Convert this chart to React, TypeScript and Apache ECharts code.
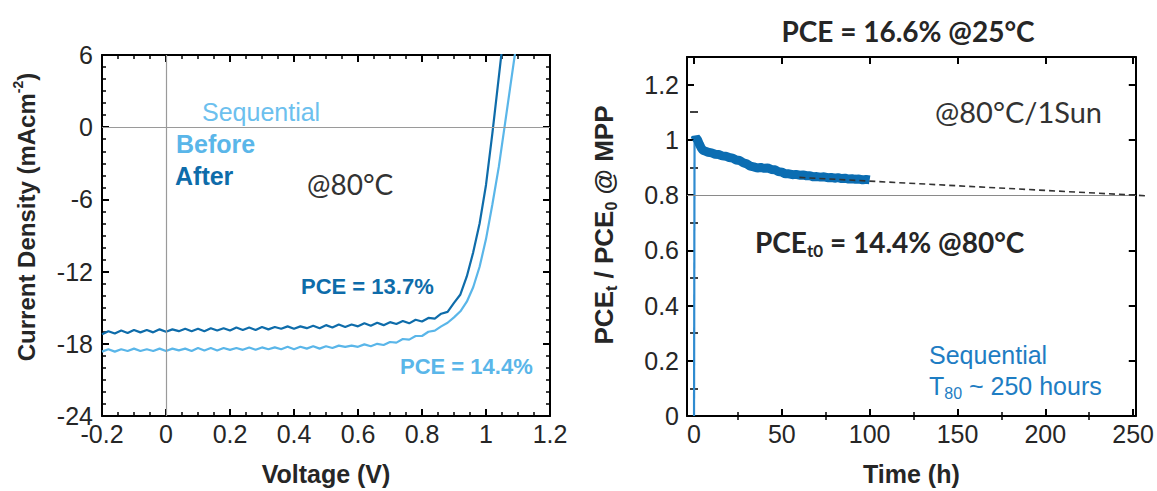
import React, { useEffect, useRef } from "react";
import * as echarts from "echarts";

// ---- Left panel: J-V curves ----
const afterVoltage = [
  -0.2, -0.18, -0.16, -0.14, -0.12, -0.1, -0.08, -0.06, -0.04, -0.02,
  0.0, 0.02, 0.04, 0.06, 0.08, 0.1, 0.12, 0.14, 0.16, 0.18,
  0.2, 0.22, 0.24, 0.26, 0.28, 0.3, 0.32, 0.34, 0.36, 0.38,
  0.4, 0.42, 0.44, 0.46, 0.48, 0.5, 0.52, 0.54, 0.56, 0.58,
  0.6, 0.62, 0.64, 0.66, 0.68, 0.7, 0.72, 0.74, 0.76, 0.78,
  0.8, 0.82, 0.84, 0.86, 0.88, 0.9, 0.92, 0.94, 0.96, 0.98,
  1.0, 1.02, 1.035, 1.05,
];
const afterCurrent = [
  -17.2, -16.95, -17.15, -16.9, -17.1, -16.85, -17.05, -16.85, -17.05, -16.8,
  -17.0, -16.8, -16.95, -16.75, -16.95, -16.75, -16.95, -16.7, -16.9, -16.7,
  -16.9, -16.65, -16.85, -16.65, -16.85, -16.6, -16.8, -16.6, -16.75, -16.55,
  -16.75, -16.55, -16.7, -16.5, -16.7, -16.45, -16.65, -16.4, -16.6, -16.4,
  -16.55, -16.3, -16.5, -16.25, -16.45, -16.2, -16.35, -16.1, -16.3, -16.0,
  -16.15, -15.85, -15.9, -15.5, -15.35, -14.6, -13.9, -12.4, -10.4, -8.0,
  -4.8, -0.5, 3.0, 6.5,
];
const beforeVoltage = [
  -0.2, -0.18, -0.16, -0.14, -0.12, -0.1, -0.08, -0.06, -0.04, -0.02,
  0.0, 0.02, 0.04, 0.06, 0.08, 0.1, 0.12, 0.14, 0.16, 0.18,
  0.2, 0.22, 0.24, 0.26, 0.28, 0.3, 0.32, 0.34, 0.36, 0.38,
  0.4, 0.42, 0.44, 0.46, 0.48, 0.5, 0.52, 0.54, 0.56, 0.58,
  0.6, 0.62, 0.64, 0.66, 0.68, 0.7, 0.72, 0.74, 0.76, 0.78,
  0.8, 0.82, 0.84, 0.86, 0.88, 0.9, 0.92, 0.94, 0.96, 0.98,
  1.0, 1.02, 1.04, 1.06, 1.075, 1.09, 1.1,
];
const beforeCurrent = [
  -18.65, -18.45, -18.65, -18.45, -18.6, -18.4, -18.6, -18.45, -18.6, -18.4,
  -18.6, -18.4, -18.55, -18.4, -18.6, -18.35, -18.55, -18.35, -18.55, -18.35,
  -18.5, -18.35, -18.5, -18.3, -18.5, -18.3, -18.45, -18.3, -18.45, -18.25,
  -18.45, -18.25, -18.4, -18.2, -18.4, -18.2, -18.35, -18.15, -18.25, -18.15,
  -18.25, -18.05, -18.2, -18.0, -18.1, -17.85, -17.9, -17.6, -17.65, -17.35,
  -17.35, -17.0, -16.9, -16.55, -16.25, -15.8, -15.3, -14.5, -13.3, -11.6,
  -9.3, -6.4, -3.3, 0.4, 3.2, 6.0, 7.5,
];
const voltageTicks = { min: -0.2, max: 1.2, interval: 0.2 };
const currentTicks = { min: -24, max: 6, interval: 6 };

// ---- Right panel: stability at MPP ----
const riseTime = [0, 0.3];
const riseValue = [0, 1.0];
const mppTime = [
  0.5, 1, 2, 3, 4, 5, 6, 8, 10, 12, 14, 16, 18, 20, 22, 24, 26, 28, 30, 32,
  34, 36, 38, 40, 42, 44, 46, 48, 50, 52, 54, 56, 58, 60, 62, 64, 66, 68, 70, 72,
  74, 76, 78, 80, 82, 84, 86, 88, 90, 92, 94, 96, 98, 100,
];
const mppValue = [
  1.0, 1.008, 1.0, 0.985, 0.972, 0.963, 0.96, 0.955, 0.953, 0.948, 0.947, 0.942, 0.941, 0.936, 0.934, 0.927, 0.925, 0.917, 0.913, 0.905,
  0.902, 0.898, 0.9, 0.897, 0.898, 0.893, 0.892, 0.885, 0.883, 0.877, 0.877, 0.874, 0.875, 0.872, 0.873, 0.87, 0.87, 0.866, 0.867, 0.865,
  0.866, 0.863, 0.864, 0.861, 0.863, 0.86, 0.861, 0.858, 0.859, 0.857, 0.858, 0.855, 0.857, 0.855,
];
const fitTime = [60, 259];
const fitValue = [0.864, 0.797];
const timeLabels = [0, 50, 100, 150, 200, 250];
const timeMinor = [25, 75, 125, 175, 225];
const ratioLabels = [0, 0.2, 0.4, 0.6, 0.8, 1, 1.2];
const ratioMinor = [0.1, 0.3, 0.5, 0.7, 0.9, 1.1];

const zip = (a: number[], b: number[]) => a.map((v, i) => [v, b[i]]);

const DARK = "#0E6CAA";
const LIGHT = "#5AB6E9";
const BAND = "#0B6DB2";
const TXT = "#262626";
const ARIAL = "'Liberation Sans', Arial, sans-serif";
const CAL = "Lato, 'Open Sans', sans-serif";

const labelStyle = { fontSize: 25, lineHeight: 18, color: TXT, fontFamily: ARIAL };
const lineStyle = { color: "#000", width: 2 };
const minorStyle = { color: "#000", width: 1.5 };

function App() {
  const ref = useRef<HTMLDivElement>(null);
  useEffect(() => {
    if (!ref.current) return;
    const chart = echarts.init(ref.current, undefined, { renderer: "svg" });
    const base = (gridIndex: number) => ({
      type: "value" as const,
      gridIndex,
      splitLine: { show: false },
      axisLine: { show: true, onZero: false, lineStyle },
    });
    const option: any = {
      animation: false,
      backgroundColor: "#fff",
      grid: [
        { left: 102, top: 55, width: 448, height: 363 },
        { left: 687, top: 57, width: 450, height: 360 },
      ],
      xAxis: [
        {
          ...base(0), position: "bottom", ...voltageTicks,
          axisTick: { inside: true, length: 7, lineStyle },
          minorTick: { show: true, splitNumber: 4, length: 4, lineStyle: minorStyle },
          axisLabel: { ...labelStyle, margin: 9 },
          name: "Voltage (V)", nameLocation: "middle", nameGap: 45,
          nameTextStyle: { fontSize: 25, fontWeight: "bold", color: TXT, fontFamily: ARIAL },
        },
        {
          ...base(0), position: "top", ...voltageTicks,
          axisTick: { inside: true, length: 7, lineStyle },
          minorTick: { show: true, splitNumber: 4, length: 4, lineStyle: minorStyle },
          axisLabel: { show: false },
        },
        {
          ...base(1), position: "bottom", min: -4, max: 251.5,
          axisTick: { inside: true, length: 7, lineStyle, customValues: timeLabels },
          axisLabel: { ...labelStyle, margin: 9, customValues: timeLabels },
          name: "Time (h)", nameLocation: "middle", nameGap: 45,
          nameTextStyle: { fontSize: 25, fontWeight: "bold", color: TXT, fontFamily: ARIAL },
        },
        {
          ...base(1), position: "top", min: -4, max: 251.5,
          axisTick: { inside: true, length: 7, lineStyle, customValues: timeLabels },
          axisLabel: { show: false },
        },
        {
          ...base(1), position: "bottom", min: -4, max: 251.5,
          axisLine: { show: false },
          axisTick: { inside: true, length: 4, lineStyle: minorStyle, customValues: timeMinor },
          axisLabel: { show: false },
        },
        {
          ...base(1), position: "top", min: -4, max: 251.5,
          axisLine: { show: false },
          axisTick: { inside: true, length: 4, lineStyle: minorStyle, customValues: timeMinor },
          axisLabel: { show: false },
        },
      ],
      yAxis: [
        {
          ...base(0), position: "left", ...currentTicks,
          axisTick: { inside: true, length: 7, lineStyle },
          minorTick: { show: true, splitNumber: 6, length: 4, lineStyle: minorStyle },
          axisLabel: { ...labelStyle, margin: 9 },
        },
        {
          ...base(0), position: "right", ...currentTicks,
          axisTick: { inside: true, length: 7, lineStyle },
          minorTick: { show: true, splitNumber: 6, length: 4, lineStyle: minorStyle },
          axisLabel: { show: false },
        },
        {
          ...base(1), position: "left", min: 0, max: 1.3,
          axisTick: { inside: true, length: 7, lineStyle, customValues: ratioLabels },
          axisLabel: { ...labelStyle, margin: 8, customValues: ratioLabels },
        },
        {
          ...base(1), position: "right", min: 0, max: 1.3,
          axisTick: { inside: true, length: 7, lineStyle, customValues: ratioLabels },
          axisLabel: { show: false },
        },
        {
          ...base(1), position: "left", min: 0, max: 1.3,
          axisLine: { show: false },
          axisTick: { inside: true, length: 4, lineStyle: minorStyle, customValues: ratioMinor },
          axisLabel: { show: false },
        },
        {
          ...base(1), position: "right", min: 0, max: 1.3,
          axisLine: { show: false },
          axisTick: { inside: true, length: 4, lineStyle: minorStyle, customValues: ratioMinor },
          axisLabel: { show: false },
        },
      ],
      series: [
        {
          name: "Before", type: "line", xAxisIndex: 0, yAxisIndex: 0,
          data: zip(beforeVoltage, beforeCurrent), showSymbol: false,
          lineStyle: { color: LIGHT, width: 2.2 }, itemStyle: { color: LIGHT },
          markLine: {
            silent: true, symbol: "none", label: { show: false },
            lineStyle: { color: "#9a9a9a", width: 1.2, type: "solid" },
            data: [{ yAxis: 0 }, { xAxis: 0 }],
          },
          z: 3,
        },
        {
          name: "After", type: "line", xAxisIndex: 0, yAxisIndex: 0,
          data: zip(afterVoltage, afterCurrent), showSymbol: false,
          lineStyle: { color: DARK, width: 2.2 }, itemStyle: { color: DARK }, z: 4,
        },
        {
          name: "Rise", type: "line", xAxisIndex: 2, yAxisIndex: 2,
          data: zip(riseTime, riseValue), showSymbol: false,
          lineStyle: { color: "#2F8BD0", width: 2.2 }, itemStyle: { color: "#2F8BD0" },
          markLine: {
            silent: true, symbol: "none", label: { show: false },
            lineStyle: { color: "#8a8a8a", width: 1.2, type: "solid" },
            data: [{ yAxis: 0.8 }],
          },
        },
        {
          name: "Sequential MPP", type: "line", xAxisIndex: 2, yAxisIndex: 2,
          data: zip(mppTime, mppValue), showSymbol: false,
          lineStyle: { color: BAND, width: 9 }, itemStyle: { color: BAND }, z: 3,
        },
      ],
      graphic: [
        { type: "text", x: 202, y: 112, style: { text: "Sequential", fill: "#6CC0EE", fontSize: 25, fontFamily: ARIAL, textAlign: "left", textVerticalAlign: "middle" } },
        { type: "text", x: 176, y: 144, style: { text: "Before", fill: LIGHT, fontSize: 25, fontWeight: "bold", fontFamily: ARIAL, textAlign: "left", textVerticalAlign: "middle" } },
        { type: "text", x: 175, y: 176, style: { text: "After", fill: DARK, fontSize: 25, fontWeight: "bold", fontFamily: ARIAL, textAlign: "left", textVerticalAlign: "middle" } },
        { type: "text", x: 307, y: 184, style: { text: "@80°C", fill: "#333", fontSize: 28, fontFamily: CAL, textAlign: "left", textVerticalAlign: "middle" } },
        { type: "text", x: 301, y: 286, style: { text: "PCE = 13.7%", fill: DARK, fontSize: 22, fontWeight: "bold", fontFamily: ARIAL, textAlign: "left", textVerticalAlign: "middle" } },
        { type: "text", x: 400, y: 366, style: { text: "PCE = 14.4%", fill: LIGHT, fontSize: 22, fontWeight: "bold", fontFamily: ARIAL, textAlign: "left", textVerticalAlign: "middle" } },
        {
          type: "text", x: 26, y: 217, rotation: Math.PI / 2,
          style: {
            text: "{a|Current Density (mAcm}{s|-2}{a|)}", fill: TXT, textAlign: "center", textVerticalAlign: "middle",
            rich: {
              a: { fontSize: 24, fontWeight: "bold", fontFamily: ARIAL, lineHeight: 30, fill: TXT },
              s: { fontSize: 14, fontWeight: "bold", fontFamily: ARIAL, lineHeight: 16, verticalAlign: "top", fill: TXT },
            },
          },
        },
        { type: "text", x: 908, y: 31, style: { text: "PCE = 16.6% @25°C", fill: TXT, fontSize: 28, fontWeight: "bold", fontFamily: CAL, textAlign: "center", textVerticalAlign: "middle" } },
        { type: "text", x: 935, y: 111, style: { text: "@80°C/1Sun", fill: "#333", fontSize: 29, fontFamily: CAL, textAlign: "left", textVerticalAlign: "middle" } },
        {
          type: "text", x: 755, y: 242,
          style: {
            text: "{a|PCE}{s|t0}{a| = 14.4% @80°C}", fill: TXT, textAlign: "left", textVerticalAlign: "middle",
            rich: {
              a: { fontSize: 28, fontWeight: "bold", fontFamily: CAL, lineHeight: 34, fill: TXT },
              s: { fontSize: 17, fontWeight: "bold", fontFamily: CAL, lineHeight: 17, verticalAlign: "bottom", fill: TXT },
            },
          },
        },
        { type: "text", x: 929, y: 355, style: { text: "Sequential", fill: "#1E7DC3", fontSize: 25, fontFamily: ARIAL, textAlign: "left", textVerticalAlign: "middle" } },
        {
          type: "text", x: 929, y: 386,
          style: {
            text: "{a|T}{s|80}{a| ~ 250 hours}", fill: "#1E7DC3", textAlign: "left", textVerticalAlign: "middle",
            rich: {
              a: { fontSize: 25, fontFamily: ARIAL, lineHeight: 30, fill: "#1E7DC3" },
              s: { fontSize: 16, fontFamily: ARIAL, lineHeight: 16, verticalAlign: "bottom", fill: "#1E7DC3" },
            },
          },
        },
        {
          type: "text", x: 604, y: 225, rotation: Math.PI / 2,
          style: {
            text: "{a|PCE}{s|t}{a| / PCE}{s|0}{a| @ MPP}", fill: TXT, textAlign: "center", textVerticalAlign: "middle",
            rich: {
              a: { fontSize: 26, fontWeight: "bold", fontFamily: ARIAL, lineHeight: 30, fill: TXT },
              s: { fontSize: 16, fontWeight: "bold", fontFamily: ARIAL, lineHeight: 16, verticalAlign: "bottom", fill: TXT },
            },
          },
        },
      ],
    };
    chart.setOption(option);
    // Extrapolated fit line: placed through the chart's own scale, drawn past the frame like the original
    const fitPoints = zip(fitTime, fitValue).map((p) =>
      chart.convertToPixel({ xAxisIndex: 2, yAxisIndex: 2 } as any, p) as number[]
    );
    chart.setOption({
      graphic: [
        {
          id: "fit-line",
          type: "polyline",
          z: 10,
          shape: { points: fitPoints },
          style: { stroke: "#333", lineWidth: 1.6, lineDash: [6, 4], fill: null },
        },
      ],
    });
    return () => chart.dispose();
  }, []);
  return (
    <div
      ref={ref}
      style={{ position: "fixed", left: 0, top: 0, width: 1157, height: 491, background: "#fff" }}
    />
  );
}

export default App;
